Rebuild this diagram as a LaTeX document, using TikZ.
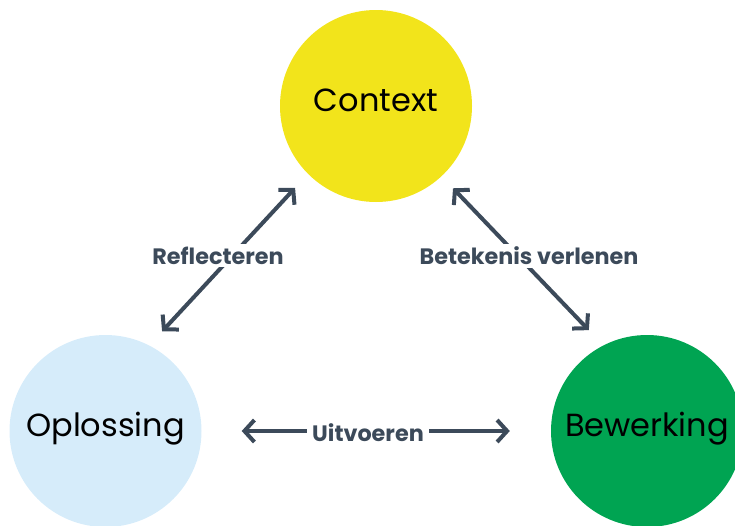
\documentclass[tikz,border=0pt]{standalone}
\usepackage{fontspec}
\setmainfont{Poppins}
\usetikzlibrary{arrows.meta}
\definecolor{ctxyellow}{RGB}{242,228,27}
\definecolor{oplblue}{RGB}{214,236,250}
\definecolor{bewgreen}{RGB}{0,164,82}
\definecolor{slate}{RGB}{60,74,90}
\begin{document}
\begin{tikzpicture}[x=1pt,y=-1pt,
  bubble/.style={circle, minimum size=192pt, inner sep=0pt, text=black,
    text height=23pt, text depth=12pt, font=\fontsize{32}{36}\selectfont},
  link/.style={draw=slate, line width=4pt,
    {Straight Barb[length=10pt,width=22pt]}-{Straight Barb[length=10pt,width=22pt]}},
  lbl/.style={fill=white, text=slate, inner xsep=5pt, inner ysep=3pt,
    font=\bfseries\fontsize{22.3}{25}\selectfont}]
\useasboundingbox (0,0) rectangle (735,525);
\clip (0,0) rectangle (735,525);
\node[bubble, fill=ctxyellow] (ctx) at (376,106) {Context};
\node[bubble, fill=oplblue] (opl) at (105.5,431) {Oplossing};
\node[bubble, fill=bewgreen] (bew) at (647,431) {Bewerking};
\draw[link, shorten <=19pt, shorten >=19pt] (ctx.225.7) -- (opl.63);
\draw[link, shorten <=16.5pt, shorten >=21pt] (ctx.313.2) -- (bew.117.4);
\draw[link, shorten <=40pt, shorten >=41pt] (opl.0) -- (bew.180);
\node[lbl] (l1) at (218,255.5) {Reflecteren};
\node[lbl] (l2) at (529,256) {Betekenis verlenen};
\node[lbl] (l3) at (368,433) {Uitvoeren};
\end{tikzpicture}
\end{document}
